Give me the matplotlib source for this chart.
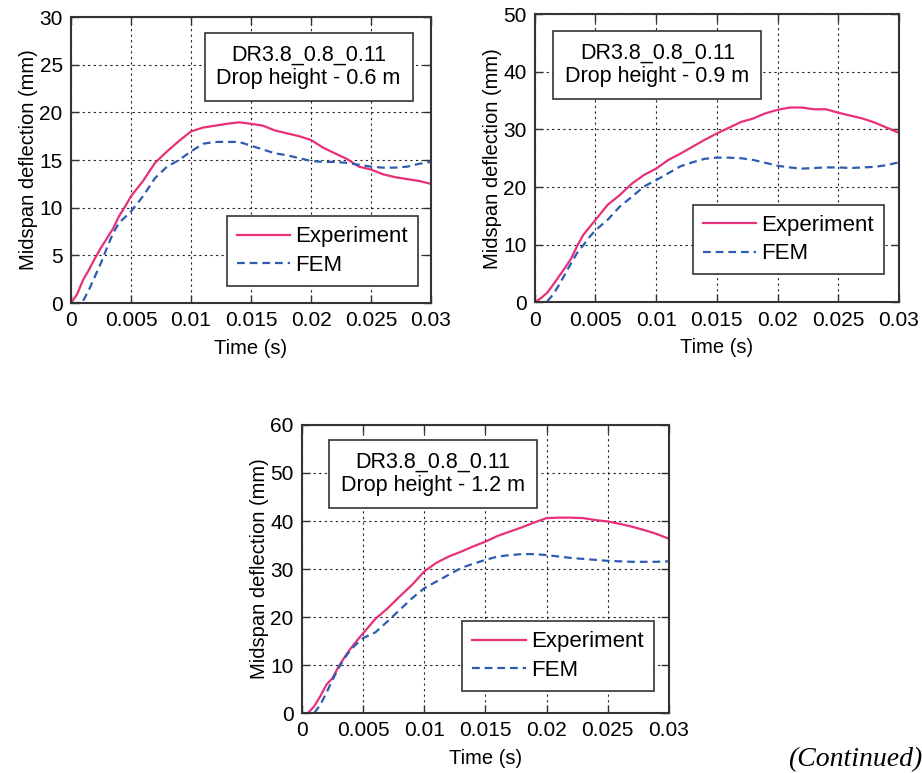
import matplotlib.pyplot as plt
import numpy as np

plt.rcParams["font.family"] = ["Liberation Sans", "DejaVu Sans"]

# time axis shared by all readings (s)
t = [0.0, 0.0005, 0.001, 0.0015, 0.002, 0.0025, 0.003, 0.0035, 0.004, 0.0045,
     0.005, 0.006, 0.007, 0.008, 0.009, 0.010, 0.011, 0.012, 0.013, 0.014,
     0.015, 0.016, 0.017, 0.018, 0.019, 0.020, 0.021, 0.022, 0.023, 0.024,
     0.025, 0.026, 0.027, 0.028, 0.029, 0.030]

# drop height 0.6 m
exp_06 = [0.0, 0.9, 2.4, 3.5, 4.7, 5.8, 6.8, 7.8, 9.1, 10.1,
          11.2, 12.8, 14.7, 15.9, 17.0, 18.0, 18.4, 18.6, 18.8, 18.95,
          18.8, 18.6, 18.1, 17.8, 17.5, 17.1, 16.3, 15.7, 15.1, 14.3,
          14.0, 13.5, 13.2, 13.0, 12.8, 12.5]
fem_06 = [0.0, 0.0, 0.2, 1.4, 2.8, 4.2, 5.8, 7.3, 8.4, 9.0,
          9.6, 11.2, 13.1, 14.3, 15.0, 15.9, 16.7, 16.9, 16.9, 16.9,
          16.5, 16.1, 15.7, 15.5, 15.2, 14.9, 14.8, 14.8, 14.7, 14.5,
          14.3, 14.2, 14.2, 14.3, 14.6, 14.8]

# drop height 0.9 m
exp_09 = [0.0, 0.7, 1.6, 3.0, 4.5, 6.0, 7.6, 9.8, 11.7, 13.0,
          14.3, 16.9, 18.6, 20.6, 22.1, 23.2, 24.7, 25.8, 27.0, 28.2,
          29.3, 30.3, 31.3, 31.9, 32.8, 33.4, 33.8, 33.8, 33.5, 33.5,
          32.9, 32.4, 31.9, 31.2, 30.3, 29.4]
fem_09 = [0.0, 0.0, 0.1, 1.3, 3.0, 4.9, 6.8, 8.6, 9.9, 11.3,
          12.5, 14.3, 16.6, 18.3, 20.1, 21.2, 22.4, 23.6, 24.3, 24.9,
          25.1, 25.1, 25.0, 24.7, 24.2, 23.7, 23.4, 23.2, 23.3, 23.4,
          23.4, 23.3, 23.4, 23.5, 23.8, 24.3]

# drop height 1.2 m
exp_12 = [np.nan, 0.0, 1.4, 3.5, 5.9, 7.3, 9.7, 11.7, 13.5, 15.1,
          16.6, 19.6, 21.8, 24.3, 26.7, 29.5, 31.3, 32.6, 33.6, 34.7,
          35.7, 36.9, 37.8, 38.7, 39.7, 40.6, 40.7, 40.7, 40.6, 40.2,
          39.9, 39.4, 38.8, 38.1, 37.3, 36.3]
fem_12 = [np.nan, np.nan, 0.0, 1.7, 4.2, 6.9, 9.4, 11.5, 13.2, 14.5,
          15.6, 16.8, 19.1, 21.5, 23.9, 26.0, 27.4, 28.8, 30.2, 31.1,
          31.9, 32.6, 32.9, 33.1, 33.1, 32.9, 32.6, 32.3, 32.1, 31.9,
          31.7, 31.6, 31.5, 31.5, 31.5, 31.6]

x_ticks = [0, 0.005, 0.01, 0.015, 0.02, 0.025, 0.03]
x_ticklabels = ["0", "0.005", "0.01", "0.015", "0.02", "0.025", "0.03"]

# (height label, experiment, FEM, y max, y step, axes rect, note centre, legend anchor)
panels = [
    ("0.6 m", exp_06, fem_06, 30, 5, [0.077, 0.608, 0.3905, 0.370], (0.0198, 24.8), (0.964, 0.059)),
    ("0.9 m", exp_09, fem_09, 50, 10, [0.580, 0.609, 0.395, 0.3726], (0.0101, 41.2), (0.959, 0.097)),
    ("1.2 m", exp_12, fem_12, 60, 10, [0.3275, 0.0776, 0.398, 0.3726], (0.0107, 49.8), (0.959, 0.076)),
]

EXP_COLOR = "#e8307a"
FEM_COLOR = "#2d5db0"
EDGE = "#333333"

fig = plt.figure(figsize=(9.22, 7.73), dpi=100)

for height, exp, fem, ymax, ystep, rect, note_xy, leg_anchor in panels:
    ax = fig.add_axes(rect)
    ax.plot(t, exp, color=EXP_COLOR, lw=1.6, label="Experiment")
    ax.plot(t, fem, color=FEM_COLOR, lw=1.6, ls=(0, (3.5, 2.2)), label="FEM")

    ax.set_xlim(0, 0.03)
    ax.set_ylim(0, ymax)
    ax.set_xticks(x_ticks)
    ax.set_xticklabels(x_ticklabels)
    ax.set_yticks(np.arange(0, ymax + 1, ystep))

    ax.grid(True, color="#222222", ls=(0, (2, 3)), lw=0.8)
    ax.tick_params(direction="in", top=True, right=True, length=6, width=1.0,
                   labelsize=15, color=EDGE, pad=6)
    for sp in ax.spines.values():
        sp.set_linewidth(1.5)
        sp.set_color(EDGE)

    ax.set_xlabel("Time (s)", fontsize=14.5, labelpad=6)
    ax.set_ylabel("Midspan deflection (mm)", fontsize=14.5, labelpad=1)

    ax.text(note_xy[0], note_xy[1], f"DR3.8_0.8_0.11\nDrop height - {height}",
            ha="center", va="center", fontsize=15.5, linespacing=1.15,
            bbox=dict(boxstyle="square,pad=0.55", fc="white", ec=EDGE, lw=1.2))

    leg = ax.legend(loc="lower right", bbox_to_anchor=leg_anchor, fontsize=16,
                    fancybox=False, framealpha=1, edgecolor=EDGE,
                    handlelength=2.4, handletextpad=0.25, borderpad=0.45,
                    labelspacing=0.35, borderaxespad=0)
    leg.get_frame().set_linewidth(1.2)

fig.text(788 / 922, 1 - 766 / 773, "(Continued)", fontsize=20, style="italic",
         family=["Liberation Serif", "DejaVu Serif"], ha="left", va="baseline")

fig.savefig("out.png", dpi=100)
